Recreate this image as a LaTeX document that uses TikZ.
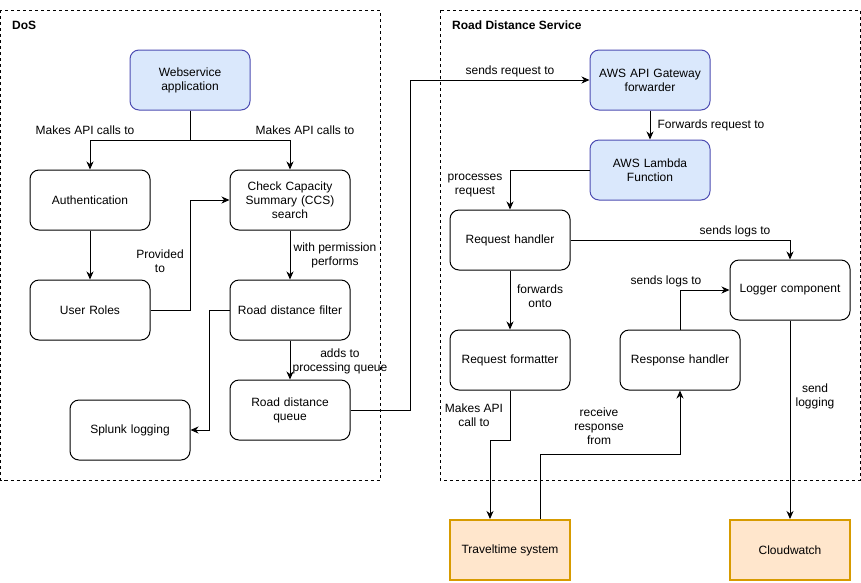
\documentclass[tikz,border=0pt]{standalone}
\usepackage{fontspec}
\setmainfont{Liberation Sans}
\usetikzlibrary{arrows.meta}
\begin{document}
\begin{tikzpicture}[x=1pt,y=-1pt,
  every node/.style={font=\fontsize{12}{14}\selectfont},
  box/.style={draw=black,line width=1pt,rounded corners=9pt,minimum width=120pt,minimum height=60pt,align=center,inner sep=2pt,text width=112pt},
  bluebox/.style={box,draw=blue!40!gray,fill={rgb,255:red,218;green,232;blue,252}},
  extbox/.style={draw={rgb,255:red,215;green,155;blue,0},fill={rgb,255:red,255;green,230;blue,204},line width=2pt,minimum width=120pt,minimum height=60pt,align=center},
  container/.style={draw=black,line width=0.8pt,dash pattern=on 3pt off 3pt},
  arr/.style={draw=black,line width=1pt,-{Stealth[length=8pt,width=7pt,inset=2.5pt]}},
  lbl/.style={align=center,inner sep=0pt,font=\fontsize{12}{14}\selectfont},
  title/.style={anchor=west,inner sep=0pt,font=\fontsize{12}{14}\selectfont\bfseries}]
\useasboundingbox (0,0) rectangle (861,582);
\colorlet{bluestroke}{blue!40!gray}
% containers
\draw[container] (0.5,10) rectangle (380,480);
\draw[container] (440,10) rectangle (860,480);
\node[title] (tdos) at (12,25) {DoS};
\node[title] (trds) at (452,25) {Road Distance Service};
% nodes left
\node[bluebox] (web) at (190,80) {Webservice\\application};
\node[box] (auth) at (90,200) {Authentication};
\node[box] (ccs) at (290,200) {Check Capacity\\Summary (CCS)\\search};
\node[box] (roles) at (90,310) {User Roles};
\node[box] (filter) at (290,310) {Road distance filter};
\node[box] (queue) at (290,410) {Road distance\\queue};
\node[box] (splunk) at (130,430) {Splunk logging};
% nodes right
\node[bluebox] (gw) at (650,80) {AWS API Gateway\\forwarder};
\node[bluebox] (lambda) at (650,170) {AWS Lambda\\Function};
\node[box] (rh) at (510,240) {Request handler};
\node[box] (logger) at (790,290) {Logger component};
\node[box] (rf) at (510,360) {Request formatter};
\node[box] (resp) at (680,360) {Response handler};
\node[extbox] (tt) at (510,550) {Traveltime system};
\node[extbox] (cw) at (790,550) {Cloudwatch};
% edges
\draw[arr] (web.south) -- ++(0,30) -| (auth.north);
\draw[arr] (web.south) -- ++(0,30) -| (ccs.north);
\draw[arr] (auth.south) -- (roles.north);
\draw[arr] (roles.east) -- ++(40,0) |- (ccs.west);
\draw[arr] (ccs.south) -- (filter.north);
\draw[arr] (filter.west) -- ++(-20,0) |- (splunk.east);
\draw[arr] (filter.south) -- (queue.north);
\draw[arr] (queue.east) -- ++(60,0) |- (gw.west);
\draw[arr] (gw.south) -- (lambda.north);
\draw[arr] (lambda.west) -| (rh.north);
\draw[arr] (rh.east) -| (logger.north);
\draw[arr] (rh.south) -- (rf.north);
\draw[arr] (resp.north) |- (logger.west);
\draw[arr] (rf.south) -- ++(0,50) -| ([xshift=-20pt]tt.north);
\draw[arr] ([xshift=30pt]tt.north) -- ++(0,-65) -| (resp.south);
\draw[arr] (logger.south) -- (cw.north);
% labels
\node[lbl] (l1) at (85,130) {Makes API calls to};
\node[lbl] (l2) at (305,130) {Makes API calls to};
\node[lbl] (l3) at (160,261) {Provided\\to};
\node[lbl] (l4) at (335,255) {with permission\\performs};
\node[lbl] (l5) at (340,361) {adds to\\processing queue};
\node[lbl] (l6) at (510,71) {sends request to};
\node[lbl] (l7) at (711,125) {Forwards request to};
\node[lbl] (l8) at (475,186) {processes\\request};
\node[lbl] (l9) at (735,231) {sends logs to};
\node[lbl] (l10) at (540,296) {forwards\\onto};
\node[lbl] (l11) at (666,281) {sends logs to};
\node[lbl] (l12) at (474,415) {Makes API\\call to};
\node[lbl] (l13) at (599,426) {receive\\response\\from};
\node[lbl] (l14) at (815,396) {send\\logging};
\end{tikzpicture}
\end{document}
